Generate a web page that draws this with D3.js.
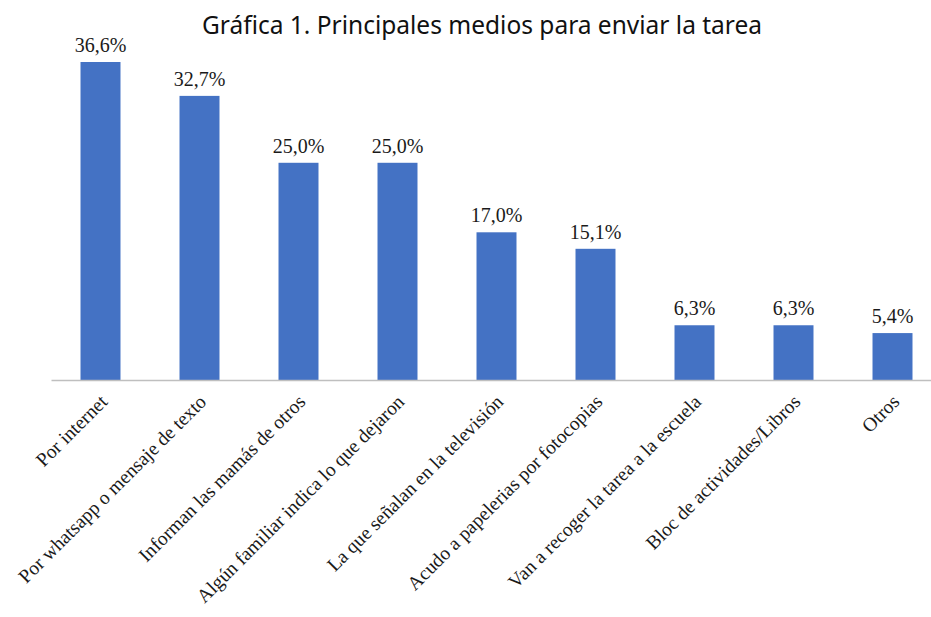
<!DOCTYPE html>
<html>
<head>
<meta charset="utf-8">
<script src="https://cdn.jsdelivr.net/npm/d3@7"></script>
<style>
  body { margin: 0; background: #fff; }
</style>
</head>
<body>
<div id="chart"></div>
<script>
// categories and values (percent)
var categories = [
    "Por internet",
    "Por whatsapp o mensaje de texto",
    "Informan las mamás de otros",
    "Algún familiar indica lo que  dejaron",
    "La que señalan en la televisión",
    "Acudo a papelerias por fotocopias",
    "Van a recoger  la tarea a la escuela",
    "Bloc de actividades/Libros",
    "Otros"
];
var values = [36.6, 32.7, 25.0, 25.0, 17.0, 15.1, 6.3, 6.3, 5.4];
var title = "Gráfica 1. Principales medios para enviar la tarea";

var w = 931;
var h = 617;
var left = 51, right = 942;   // band range
var baseY = 380;              // x axis position

var xScale = d3.scaleBand()
    .domain(categories)
    .range([left, right])
    .paddingInner(0.596)
    .paddingOuter(0.298);

var yScale = d3.scaleLinear()
    .domain([0, 36.6])
    .range([baseY, 62]);

var svg = d3.select("#chart")
    .append("svg")
    .attr("width", w)
    .attr("height", h);

// title
svg.append("text")
    .attr("x", 482)
    .attr("y", 34)
    .attr("text-anchor", "middle")
    .attr("font-family", "'Noto Sans', sans-serif")
    .attr("font-size", "24.5px")
    .attr("fill", "#111")
    .text(title);

// bars
svg.selectAll("rect.bar")
    .data(values)
    .enter()
    .append("rect")
    .attr("class", "bar")
    .attr("x", function(d, i) { return xScale(categories[i]); })
    .attr("y", function(d) { return yScale(d); })
    .attr("width", xScale.bandwidth())
    .attr("height", function(d) { return baseY - yScale(d); })
    .attr("fill", "#4472C4");

// value labels
svg.selectAll("text.val")
    .data(values)
    .enter()
    .append("text")
    .attr("class", "val")
    .attr("x", function(d, i) { return xScale(categories[i]) + xScale.bandwidth() / 2; })
    .attr("y", function(d) { return yScale(d) - 10; })
    .attr("text-anchor", "middle")
    .attr("font-family", "'Liberation Serif', 'Times New Roman', serif")
    .attr("font-size", "20px")
    .attr("fill", "#1a1a1a")
    .text(function(d) { return d.toFixed(1).replace(".", ",") + "%"; });

// x axis line
var xAxis = d3.axisBottom(xScale).tickSize(0).tickFormat("");
svg.append("g")
    .attr("class", "x axis")
    .attr("transform", "translate(0," + baseY + ")")
    .call(xAxis)
    .select(".domain")
    .attr("stroke", "#bfbfbf")
    .attr("stroke-width", 1.5);

// category labels, rotated
svg.selectAll("text.cat")
    .data(categories)
    .enter()
    .append("text")
    .attr("class", "cat")
    .attr("text-anchor", "end")
    .attr("font-family", "'Liberation Serif', 'Times New Roman', serif")
    .attr("font-size", "19.5px")
    .attr("fill", "#1a1a1a")
    .attr("transform", function(d) {
        var x = xScale(d) + xScale.bandwidth() / 2 + 8;
        return "translate(" + x + "," + (baseY + 23) + ") rotate(-45)";
    })
    .text(function(d) { return d; });
</script>
</body>
</html>
